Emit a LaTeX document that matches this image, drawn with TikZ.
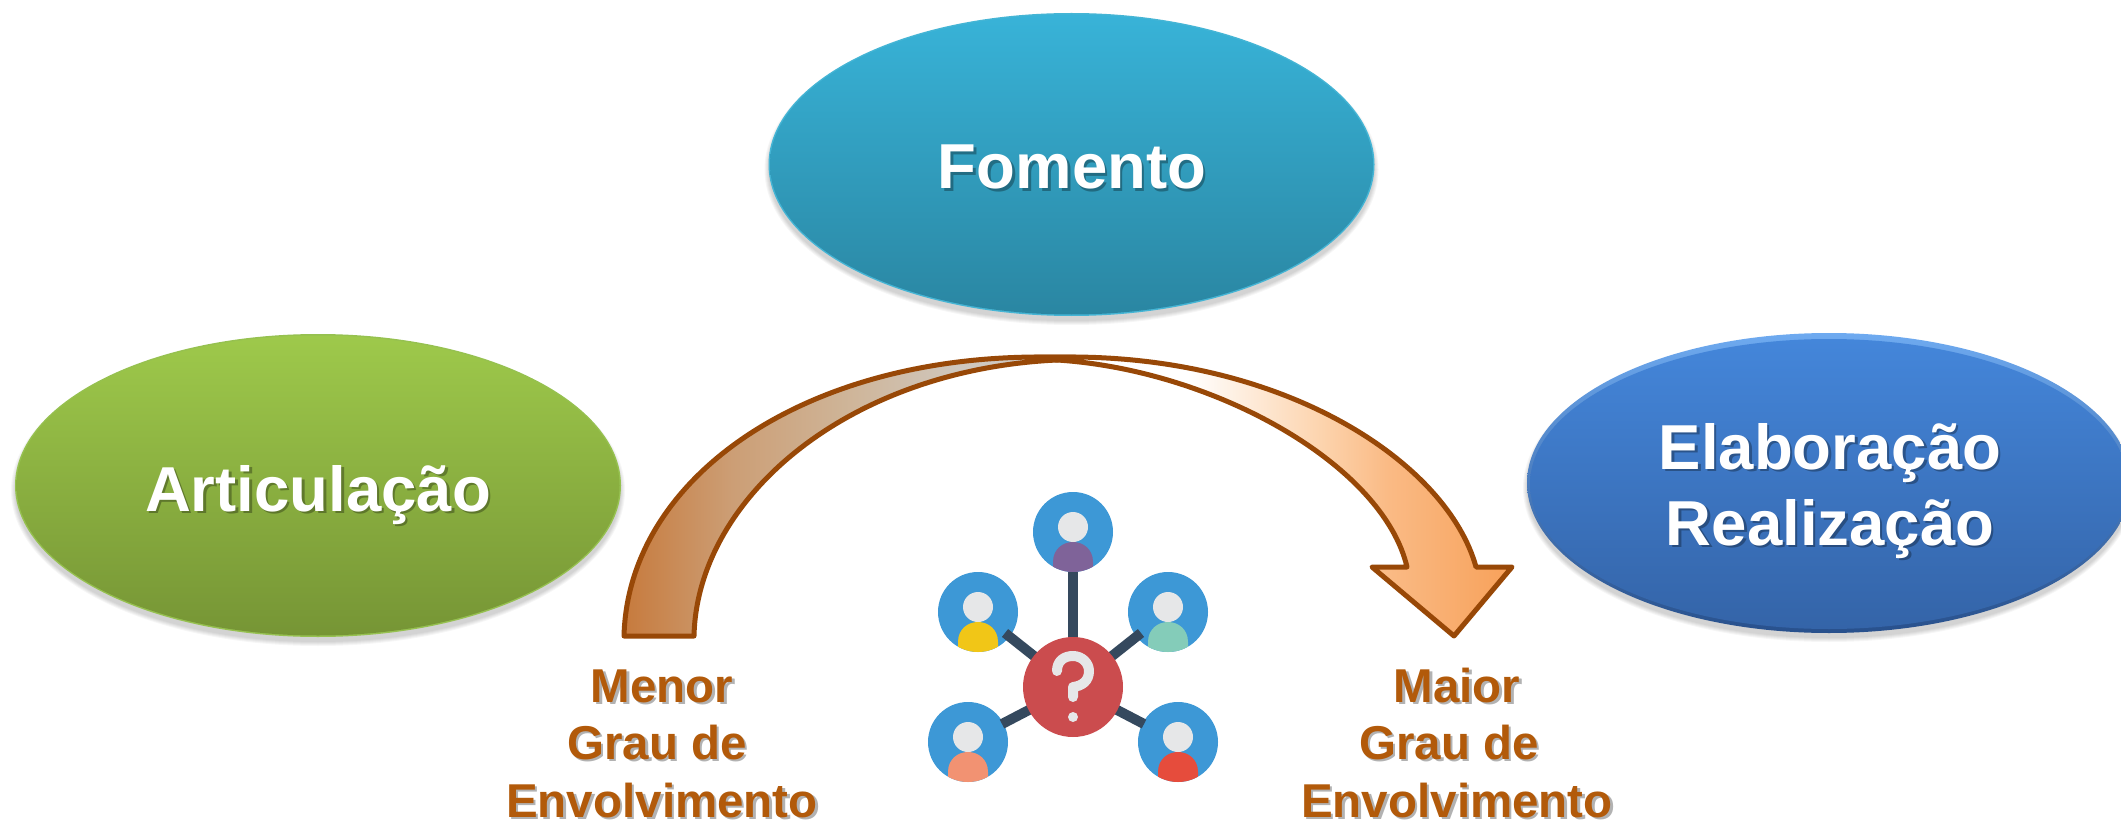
\documentclass[tikz,border=0pt]{standalone}
\usepackage{fontspec}
\setmainfont{Liberation Sans}
\definecolor{brownline}{HTML}{984807}
\definecolor{labelc}{HTML}{B25A0A}
\definecolor{bluecirc}{HTML}{3D98D6}
\definecolor{headc}{HTML}{E6E7E8}
\definecolor{linkc}{HTML}{35495E}
\definecolor{redc}{HTML}{CB4C4E}
\definecolor{fomtop}{HTML}{38B3D8}
\definecolor{fombot}{HTML}{2A86A2}
\definecolor{fomrim}{HTML}{45B5D5}
\definecolor{arttop}{HTML}{9EC94B}
\definecolor{artbot}{HTML}{769535}
\definecolor{artrim}{HTML}{96C150}
\definecolor{elatop}{HTML}{6EAAF0}
\definecolor{elabot}{HTML}{28508C}
\definecolor{elaintop}{HTML}{4486DA}
\definecolor{elainbot}{HTML}{3464A8}
\definecolor{bviolet}{HTML}{7F6399}
\definecolor{byellow}{HTML}{F1C617}
\definecolor{bteal}{HTML}{84CCB9}
\definecolor{bsalmon}{HTML}{F29272}
\definecolor{bred}{HTML}{E64C3C}
% pgf maps the middle 25bp..75bp of a shading onto the path's box
\pgfdeclarehorizontalshading{leftarrowsh}{100bp}{rgb(0bp)=(0.78,0.48,0.24); rgb(25bp)=(0.78,0.48,0.24); rgb(37bp)=(0.80,0.62,0.46); rgb(50bp)=(0.81,0.71,0.60); rgb(62bp)=(0.81,0.78,0.74); rgb(75bp)=(0.82,0.80,0.78); rgb(100bp)=(0.82,0.80,0.78)}
\pgfdeclarehorizontalshading{rightarrowsh}{100bp}{rgb(0bp)=(1,1,1); rgb(41bp)=(1,1,1); rgb(55bp)=(0.99,0.83,0.68); rgb(62bp)=(0.98,0.73,0.52); rgb(75bp)=(0.97,0.63,0.35); rgb(100bp)=(0.97,0.63,0.35)}
\newcommand{\shtext}[1]{\leavevmode\rlap{\kern2.5pt\raisebox{-2.5pt}{\pgfsetfillopacity{0.3}\color{black}#1\pgfsetfillopacity{1}}}#1}
\tikzset{
  x=1pt,y=-1pt,
  big/.style={text=white,font=\fontsize{63.5}{76}\selectfont\bfseries,align=center,inner sep=0pt},
  lab/.style={text=labelc,font=\fontsize{47.5}{58}\selectfont\bfseries,inner sep=0pt,anchor=base},
  arrowline/.style={draw=brownline,line width=5pt,line join=round},
  blob/.style={fill=black,opacity=0.035},
  link/.style={linkc,line width=10pt},
}
\newcommand{\softshadow}[4]{%
  \foreach \g in {4,3,2,1,0}{\fill[blob] (#1,#2+5) ellipse [x radius=#3+\g,y radius=#4+\g];}}
\newcommand{\person}[4]{%
  \begin{scope}
    \fill[bluecirc] (#1,#2) circle [radius=40];
    \clip (#1,#2) circle [radius=40];
    \fill[#3] (#1-20,#2+50) -- (#1-20,#2+30) .. controls (#1-20,#2+17) and (#1-10,#2+10) .. (#1,#2+10) .. controls (#1+10,#2+10) and (#1+20,#2+17) .. (#1+20,#2+30) -- (#1+20,#2+50) -- cycle;
  \end{scope}
  \fill[headc] (#1,#2-5) circle [radius=15];
  \coordinate (#4) at (#1,#2);
}
\begin{document}
\begin{tikzpicture}
\useasboundingbox (0,0) rectangle (2121,821);
\fill[white] (0,0) rectangle (2121,821);

% ellipses
\softshadow{1071.5}{164.5}{303}{151.5}
\fill[fomrim] (1071.5,164.5) ellipse [x radius=303,y radius=151.5];
\shade[top color=fomtop,bottom color=fombot] (1071.5,164.5) ellipse [x radius=301.5,y radius=150];
\softshadow{318}{485.5}{303}{151.5}
\fill[artrim] (318,485.5) ellipse [x radius=303,y radius=151.5];
\shade[top color=arttop,bottom color=artbot] (318,485.5) ellipse [x radius=301.5,y radius=150];
\softshadow{1829}{483}{302}{150}
\shade[top color=elatop,bottom color=elabot] (1829,483) ellipse [x radius=302,y radius=150];
\shade[top color=elaintop,bottom color=elainbot] (1829,484) ellipse [x radius=299,y radius=145];

\node[big,anchor=base] (fom) at (1072,189) {\shtext{Fomento}};
\node[big,anchor=base] (art) at (318,511) {\shtext{Articulação}};
\node[big] (ela) at (1830,492) {\shtext{Elaboração}\\\shtext{Realização}};

% curved arrow
\coordinate (a) at (624,636);
\coordinate (b) at (694,636);
\coordinate (t) at (1057,360);
\shade[shading=leftarrowsh,arrowline] (a) .. controls (628,480) and (800,357) .. (1040,357) -- (1075,357) -- (t) .. controls (845,370) and (697,500) .. (b) -- cycle;
\shade[shading=rightarrowsh,arrowline] (t) .. controls (1215,370) and (1383,465) .. (1407,567) -- (1372,567) -- (1454,636) -- (1512,567) -- (1476,567) .. controls (1448,465) and (1290,357) .. (1070,357) -- (1035,357) -- cycle;

% labels
\node[lab] (menor) at (662,702) {\shtext{Menor}};
\node[lab] (grau1) at (657,759) {\shtext{Grau de}};
\node[lab] (env1) at (662,817) {\shtext{Envolvimento}};
\node[lab] (maior) at (1457,702) {\shtext{Maior}};
\node[lab] (grau2) at (1449,759) {\shtext{Grau de}};
\node[lab] (env2) at (1457,817) {\shtext{Envolvimento}};

% icon
\person{1073}{532}{bviolet}{p1}
\person{978}{612}{byellow}{p2}
\person{1168}{612}{bteal}{p3}
\person{968}{742}{bsalmon}{p4}
\person{1178}{742}{bred}{p5}
\coordinate (hub) at (1073,687);
\draw[link] (hub) -- (1073,572);
\draw[link] (hub) -- (1005,633);
\draw[link] (hub) -- (1141,633);
\draw[link] (hub) -- (1002,724);
\draw[link] (hub) -- (1144,724);
\fill[redc] (hub) circle [radius=50];
\draw[headc,line width=10pt,line cap=round,line join=round] (1057,671) .. controls (1057,661) and (1064,656) .. (1073,656) .. controls (1082,656) and (1089,663) .. (1089,671) .. controls (1089,681) and (1082,686) .. (1073,687) -- (1073,697);
\fill[headc] (1073,717) circle [radius=5];
\end{tikzpicture}
\end{document}
